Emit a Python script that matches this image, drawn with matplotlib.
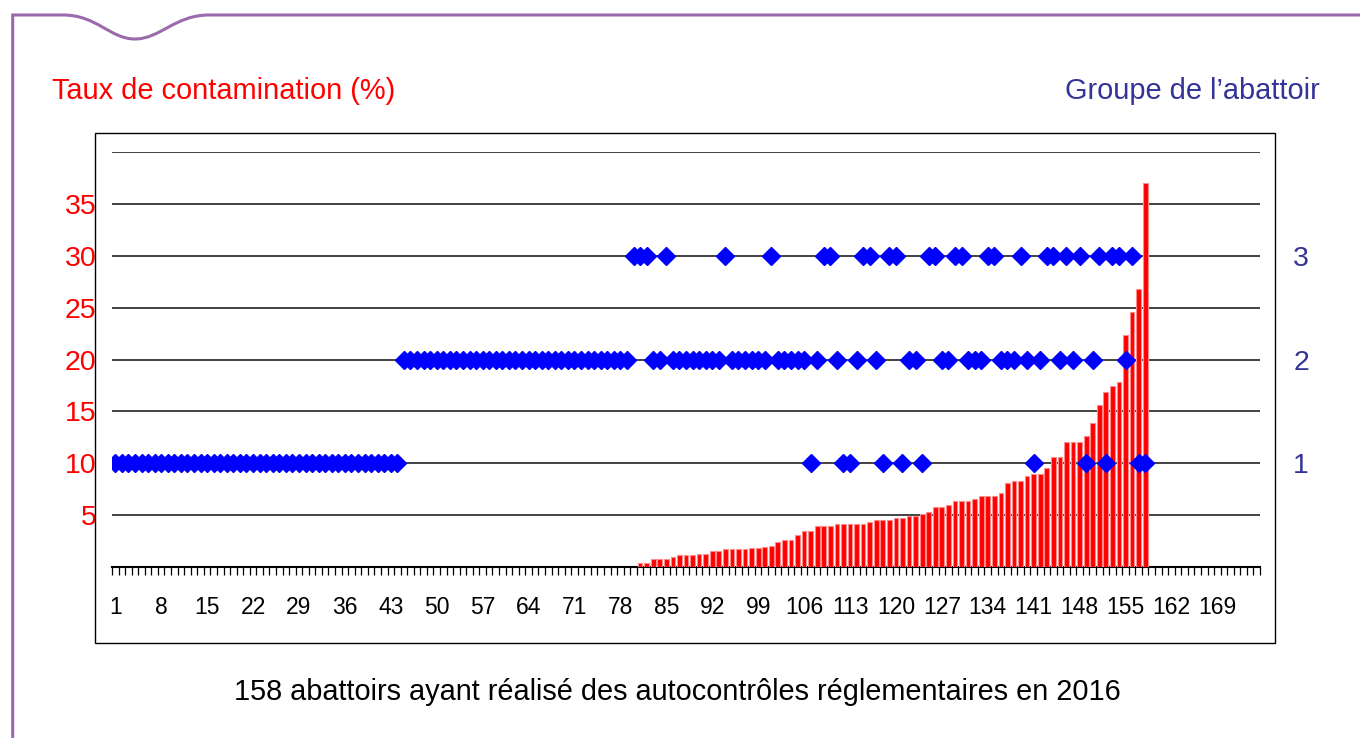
import matplotlib.pyplot as plt
import numpy as np
from matplotlib.path import Path
from matplotlib.patches import PathPatch, Rectangle

plt.rcParams['font.family'] = ['Liberation Sans', 'DejaVu Sans']

# Data: 158 abattoirs sorted by contamination rate, 175 slots on the axis
n_slots = 175
rates = [0.0] * 80 + [
    0.4, 0.4, 0.75, 0.75, 0.75, 0.95, 1.15, 1.15, 1.15, 1.3,
    1.3, 1.5, 1.5, 1.7, 1.7, 1.7, 1.7, 1.85, 1.85, 1.9,
    2.05, 2.45, 2.65, 2.65, 3.05, 3.45, 3.45, 3.95, 3.95, 3.95,
    4.13, 4.13, 4.13, 4.13, 4.13, 4.33, 4.5, 4.5, 4.5, 4.7,
    4.7, 4.9, 4.9, 5.1, 5.28, 5.8, 5.8, 5.96, 6.32, 6.32,
    6.32, 6.53, 6.85, 6.85, 6.85, 7.17, 8.1, 8.3, 8.3, 8.76,
    8.96, 8.96, 9.5, 10.6, 10.6, 12.08, 12.08, 12.08, 12.65, 13.9,
    15.6, 16.9, 17.45, 17.85, 22.4, 24.6, 26.8, 37.0]
groups = [1] * 44 + [2] * 35 + [3] + [
    3, 3, 2, 2, 3, 2, 2, 2, 2, 2,
    2, 2, 2, 3, 2, 2, 2, 2, 2, 2,
    3, 2, 2, 2, 2, 2, 1, 2, 3, 3,
    2, 1, 1, 2, 3, 3, 2, 1, 3, 3,
    1, 2, 2, 1, 3, 3, 2, 2, 3, 3,
    2, 2, 2, 3, 3, 2, 2, 2, 3, 2,
    1, 2, 3, 3, 2, 3, 2, 3, 1, 2,
    3, 1, 3, 3, 2, 3, 1, 1]
xtick_labels = list(range(1, n_slots, 7))
ytick_values = [5, 10, 15, 20, 25, 30, 35]
group_ticks = [1, 2, 3]

W, H = 1360, 738
fig = plt.figure(figsize=(W / 100, H / 100), dpi=100)


def fp(x, y):
    return (x / W, 1 - y / H)


ax = fig.add_axes([112 / W, 1 - 567 / H, 1148 / W, 415 / H])
x = np.arange(1, len(rates) + 1)
r = np.array(rates)
mask = r > 0
ax.bar(x[mask], r[mask], width=0.72, color='#ff0000', edgecolor='#ff8c8c',
       linewidth=0.8, zorder=3)

ax.set_xlim(0.5, n_slots + 0.5)
ax.set_ylim(0, 40)
ax.set_yticks(ytick_values + [40])
ax.set_yticklabels([str(v) for v in ytick_values] + [''])
ax.yaxis.grid(True, color='#222222', linewidth=1.2, zorder=1)
ax.tick_params(axis='y', length=0, pad=11, labelsize=20.5, labelcolor='red')
ax.set_xticks(xtick_labels)
ax.set_xticklabels([str(v) for v in xtick_labels])
ax.set_xticks(np.arange(0.5, n_slots + 1, 1), minor=True)
ax.tick_params(axis='x', which='major', length=0, pad=21, labelsize=16.5)
ax.tick_params(axis='x', which='minor', length=6, width=0.9, direction='out')
for s in ['left', 'right', 'top']:
    ax.spines[s].set_visible(False)
ax.spines['bottom'].set_linewidth(1.5)
ax.set_axisbelow(True)

ax2 = ax.twinx()
ax2.set_ylim(0, 4)
ax2.set_yticks(group_ticks)
ax2.tick_params(axis='y', length=0, pad=24, labelsize=20.5, labelcolor='#333399')
for s in ['left', 'right', 'top', 'bottom']:
    ax2.spines[s].set_visible(False)
ax2.plot(np.arange(1, len(groups) + 1), groups, linestyle='none', marker='D',
         markersize=9.5, color='#0000ff', zorder=4)

# chart frame
fig.patches.append(Rectangle(fp(95, 643), 1180 / W, 510 / H,
                             transform=fig.transFigure, fill=False,
                             edgecolor='black', linewidth=1))

# purple page border with notch
verts = [fp(12.7, 740), fp(12.7, 15), fp(63, 15),
         fp(97, 15), fp(110, 39), fp(135, 39),
         fp(160, 39), fp(175, 15), fp(209, 15),
         fp(1362, 15)]
codes = [Path.MOVETO, Path.LINETO, Path.LINETO,
         Path.CURVE4, Path.CURVE4, Path.CURVE4,
         Path.CURVE4, Path.CURVE4, Path.CURVE4,
         Path.LINETO]
fig.patches.append(PathPatch(Path(verts, codes), transform=fig.transFigure,
                             fill=False, edgecolor='#9b6aac', linewidth=2.2))

fig.text(*fp(52, 91), 'Taux de contamination (%)', color='red',
         fontsize=20.9, va='center', ha='left')
fig.text(*fp(1320, 91), 'Groupe de l\u2019abattoir', color='#333399',
         fontsize=20.9, va='center', ha='right')
fig.text(*fp(677, 692),
         '158 abattoirs ayant réalisé des autocontrôles réglementaires en 2016',
         color='black', fontsize=20.8, va='center', ha='center')

fig.savefig('out.png', dpi=100)
